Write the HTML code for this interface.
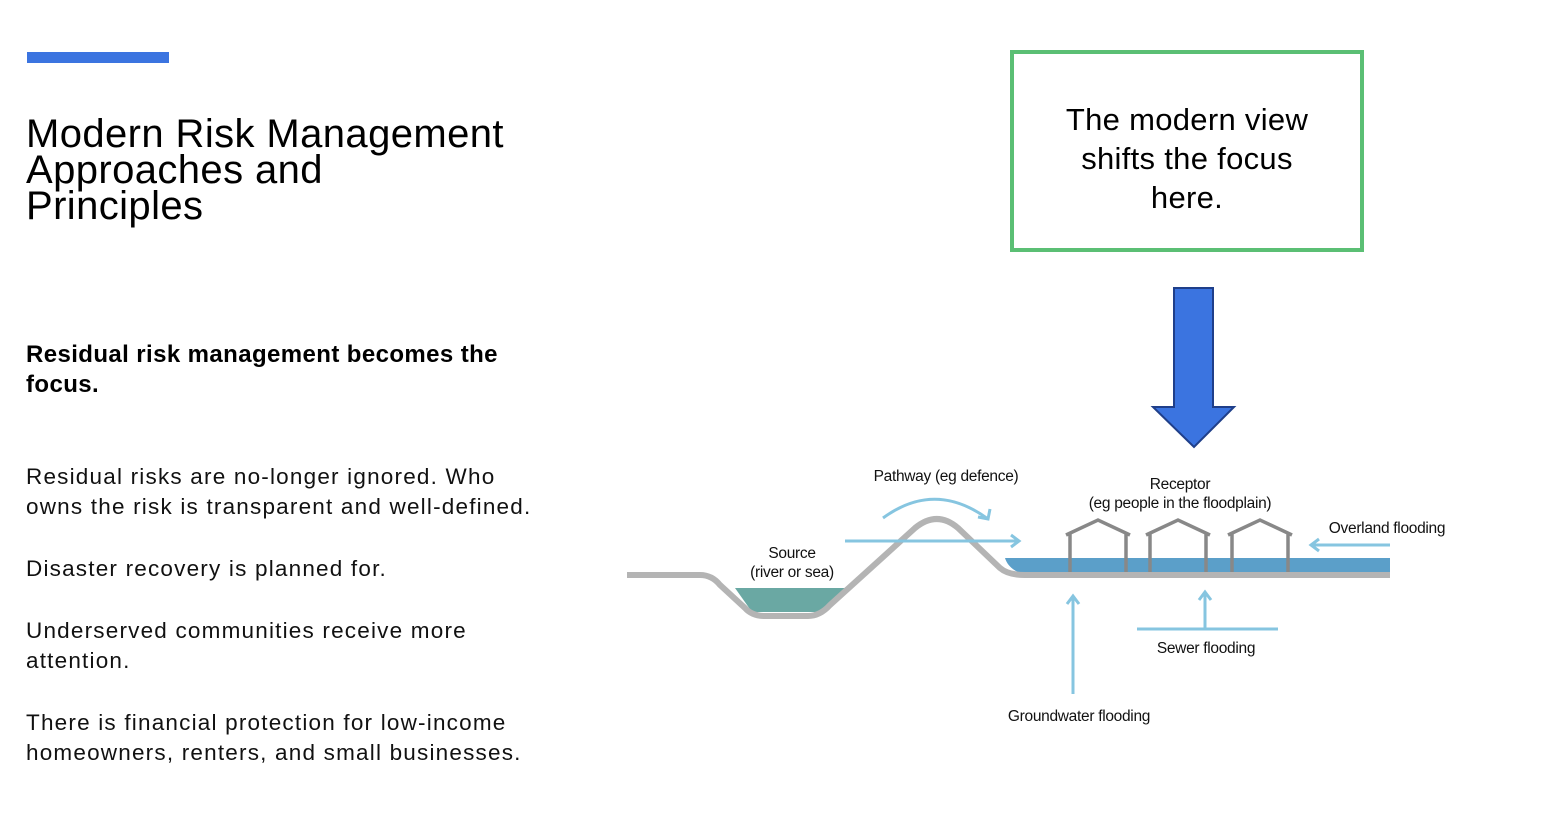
<!DOCTYPE html>
<html><head><meta charset="utf-8"><style>
body{margin:0;width:1554px;height:830px;background:#fff;position:relative;overflow:hidden;font-family:"Liberation Sans",sans-serif;color:#000}
.a{position:absolute}
</style></head><body>
<div class="a" style="left:27px;top:52px;width:142px;height:11px;background:#3b74e0"></div>
<div class="a" style="left:26px;top:116px;font-size:40px;line-height:36px;letter-spacing:0.4px">Modern Risk Management<br>Approaches and<br>Principles</div>
<div class="a" style="left:26px;top:340px;font-size:24px;line-height:30px;font-weight:bold;letter-spacing:0.4px">Residual risk management becomes the<br>focus.</div>
<div class="a" style="left:26px;top:462px;font-size:22.5px;line-height:30px;color:#111;letter-spacing:1.2px">Residual risks are no-longer ignored. Who<br>owns the risk is transparent and well-defined.</div>
<div class="a" style="left:26px;top:554px;font-size:22.5px;line-height:30px;color:#111;letter-spacing:1.2px">Disaster recovery is planned for.</div>
<div class="a" style="left:26px;top:616px;font-size:22.5px;line-height:30px;color:#111;letter-spacing:1.2px">Underserved communities receive more<br>attention.</div>
<div class="a" style="left:26px;top:708px;font-size:22.5px;line-height:30px;color:#111;letter-spacing:1.2px">There is financial protection for low-income<br>homeowners, renters, and small businesses.</div>
<div class="a" style="left:1010px;top:50px;width:346px;border:4px solid #5bbf74;text-align:center;font-size:31px;line-height:39px;padding-top:46px;height:148px;letter-spacing:0.3px">The modern view<br>shifts the focus<br>here.</div>
<svg class="a" style="left:0;top:0" width="1554" height="830">
<polygon points="1174,288 1213,288 1213,407 1234,407 1194,447 1153,407 1174,407" fill="#3b74e0" stroke="#1f3f8a" stroke-width="2"/>
<path d="M1005,558 L1390,558 L1390,573 L1020,573 Q1008,568 1005,558Z" fill="#5b9fc9"/>
<path d="M735,588 L848,588 L825,612 L752,612Z" fill="#6aa8a3"/>
<path d="M627,575 L700,575 Q712,575 720,585 L745,608 Q752,616 765,616 L808,616 Q820,616 830,605 L915,528 Q937,510 958,528 L1000,568 Q1008,575 1025,575 L1390,575" fill="none" stroke="#b4b4b4" stroke-width="6"/>
<g stroke="#888" stroke-width="3.5" fill="none">
<path d="M1066,535 L1098,520 L1130,535 M1070,533 V572 M1126,533 V572"/>
<path d="M1146,535 L1178,520 L1210,535 M1150,533 V572 M1206,533 V572"/>
<path d="M1228,535 L1260,520 L1292,535 M1232,533 V572 M1288,533 V572"/>
</g>
<g stroke="#86c5e0" stroke-width="3" fill="none">
<path d="M845,541 H1019 M1011,535 L1019,541 L1011,547"/>
<path d="M883,518 Q935,480 988,519 M978,517 L988,519 L990,509"/>
<path d="M1390,545 H1311 M1319,539 L1311,545 L1319,551"/>
<path d="M1073,694 V596 M1067,604 L1073,596 L1079,604"/>
<path d="M1137,629 H1278 M1205,629 V592 M1199,600 L1205,592 L1211,600"/>
</g>
<g font-family="Liberation Sans,sans-serif" font-size="15.5" fill="#111" text-anchor="middle" letter-spacing="-0.3">
<text x="946" y="481">Pathway (eg defence)</text>
<text x="1180" y="489">Receptor</text>
<text x="1180" y="508">(eg people in the floodplain)</text>
<text x="1387" y="533">Overland flooding</text>
<text x="792" y="558">Source</text>
<text x="792" y="577">(river or sea)</text>
<text x="1206" y="653">Sewer flooding</text>
<text x="1079" y="721">Groundwater flooding</text>
</g>
</svg>
</body></html>
